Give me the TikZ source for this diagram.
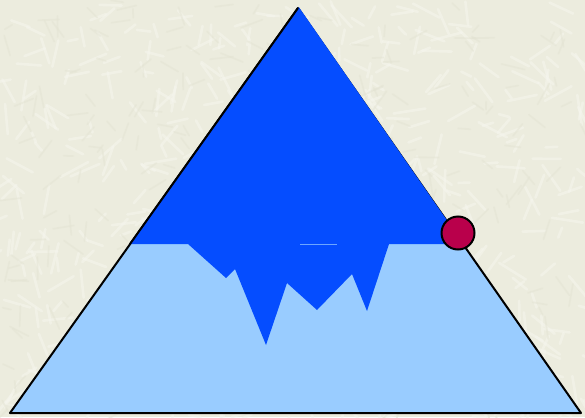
\documentclass[tikz,border=0pt]{standalone}
\definecolor{bgbeige}{RGB}{236,236,222}
\definecolor{bgstroke}{RGB}{246,246,238}
\definecolor{bgdark}{RGB}{228,228,212}
\definecolor{darkblue}{RGB}{5,77,255}
\definecolor{lightblue}{RGB}{153,204,255}
\definecolor{berry}{RGB}{185,0,75}
\begin{document}
\begin{tikzpicture}[x=1pt,y=-1pt,
  outline/.style={draw=black,line width=2pt,line join=round},
  fibre/.style={line width=2.6pt,line cap=round,bgstroke,opacity=0.55},
  fibredark/.style={line width=1.8pt,line cap=round,bgdark,opacity=0.5}]
\useasboundingbox (0,0) rectangle (585,417);
\fill[bgbeige] (0,0) rectangle (585,417);
\pgfmathsetseed{7}
\begin{scope}
\clip (0,0) rectangle (585,417);
\foreach \i in {1,...,600}{
  \pgfmathsetmacro{\px}{rnd*585}
  \pgfmathsetmacro{\py}{rnd*417}
  \pgfmathsetmacro{\ang}{rnd*180}
  \pgfmathsetmacro{\len}{10+rnd*22}
  \draw[fibre] (\px,\py) -- ++(\ang:\len);
}
\foreach \i in {1,...,300}{
  \pgfmathsetmacro{\px}{rnd*585}
  \pgfmathsetmacro{\py}{rnd*417}
  \pgfmathsetmacro{\ang}{rnd*180}
  \pgfmathsetmacro{\len}{8+rnd*16}
  \draw[fibredark] (\px,\py) -- ++(\ang:\len);
}
\end{scope}
% triangle
\coordinate (apex) at (298,8);
\coordinate (bl) at (10,413);
\coordinate (br) at (581,413);
\coordinate (rmid) at (462,244);
\coordinate (lmid) at (130,244);
\filldraw[fill=lightblue,outline] (apex) -- (bl) -- (br) -- cycle;
% dark blue top with jagged bottom
\fill[darkblue] (apex) -- (rmid) -- (389,244) -- (367,311) -- (352,274)
  -- (317,310) -- (287,283) -- (266,345) -- (235,269) -- (226,278)
  -- (188,244) -- (lmid) -- cycle;
\draw[darkblue,line width=2.4pt] (apex) -- (rmid);
\draw[lightblue!70!darkblue,line width=0.6pt] (300,244) -- (337,244);
\draw[outline] (apex) -- (lmid);
% dot
\node[circle,fill=berry,draw=black,line width=2pt,minimum size=33pt,inner sep=0pt] (dot) at (458,233) {};
\end{tikzpicture}
\end{document}
